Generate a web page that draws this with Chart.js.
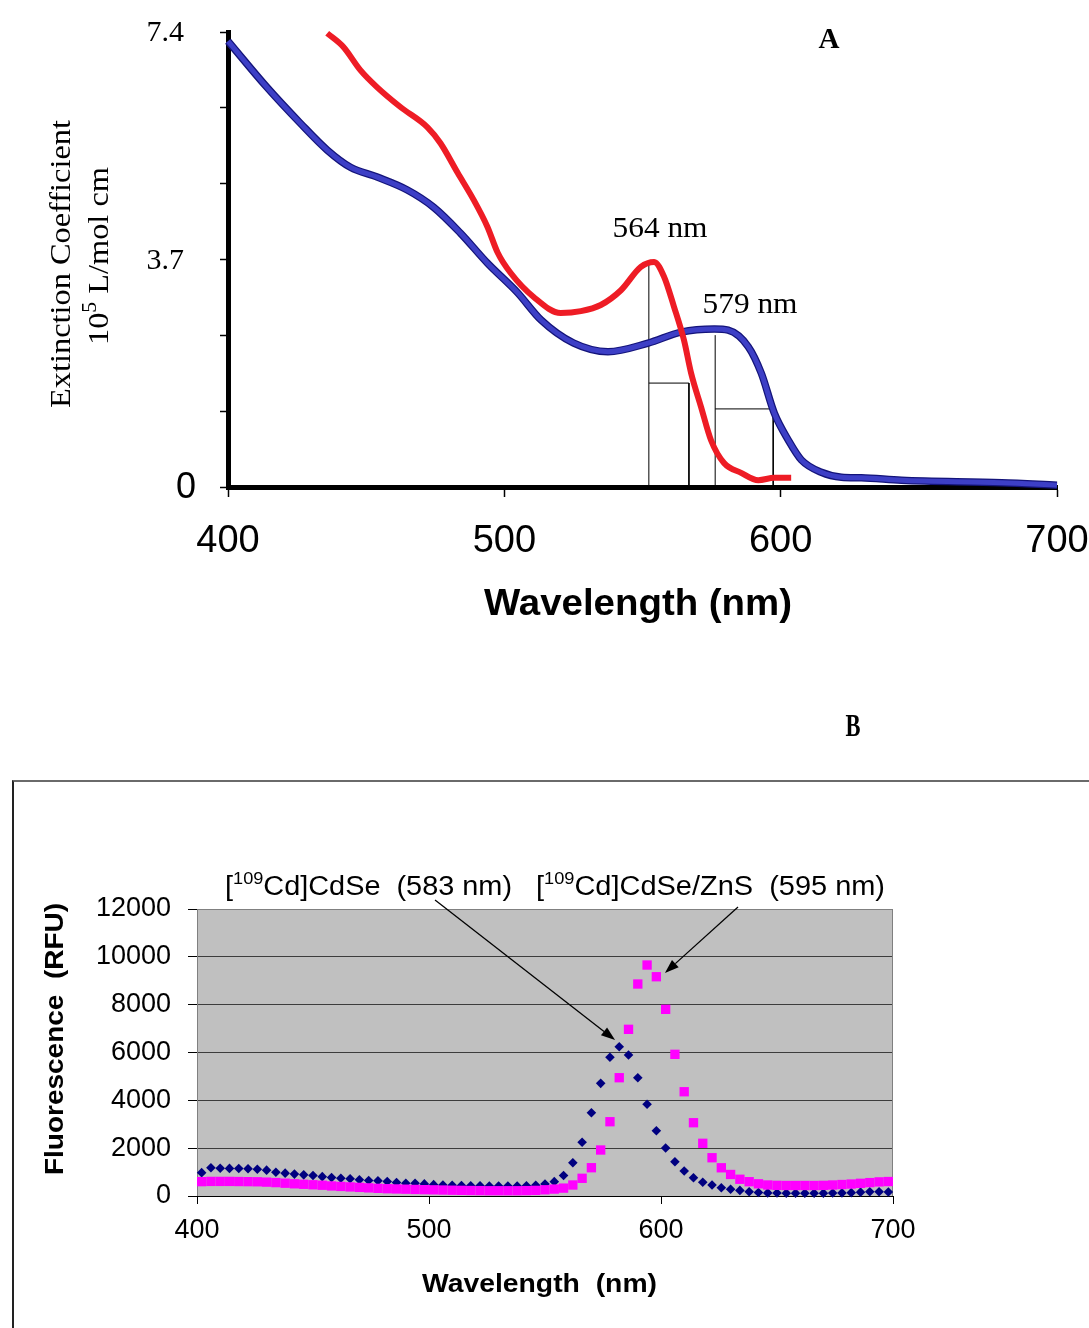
<!DOCTYPE html>
<html>
<head>
<meta charset="utf-8">
<script src="https://cdn.jsdelivr.net/npm/chart.js@4.4.0/dist/chart.umd.min.js"></script>
<style>
  body { margin: 0; background: #fff; width: 1089px; height: 1328px; overflow: hidden; position: relative; }
  #chartA { position: absolute; left: 0; top: 0; }
  #frameB { position: absolute; left: 12px; top: 780px; width: 1077px; height: 548px;
            border-top: 2px solid #6a6a6a; border-left: 2px solid #222; box-sizing: border-box; }
  #chartB { position: absolute; left: 0; top: 780px; }
</style>
</head>
<body>
<canvas id="chartA" width="1089" height="780"></canvas>
<div id="frameB"></div>
<canvas id="chartB" width="1089" height="548"></canvas>
<script>
// ---- panel A: extinction spectra (wavelength nm, 10^5 L/mol cm) ----
const blueWl  = [400.0, 414.1, 426.1, 435.9, 444.3, 454.0, 464.9, 474.4, 484.1, 493.9, 504.8, 513.2, 525.1, 537.5, 552.0, 564.0, 576.0, 581.0, 588.3, 593.0, 597.7, 602.8, 607.5, 614.7, 622.0, 629.2, 643.7, 680.0, 700.0];
const blueExt = [7.25, 6.50, 5.92, 5.48, 5.20, 5.04, 4.83, 4.55, 4.13, 3.64, 3.16, 2.72, 2.34, 2.20, 2.34, 2.52, 2.57, 2.55, 2.28, 1.85, 1.20, 0.76, 0.44, 0.24, 0.16, 0.15, 0.11, 0.07, 0.03];
const redWl   = [435.9, 441.7, 447.9, 454.0, 462.4, 472.2, 476.9, 483.1, 488.9, 493.9, 497.6, 502.3, 510.6, 520.4, 527.7, 534.9, 542.2, 549.4, 554.2, 557.8, 561.4, 565.0, 567.6, 571.2, 574.8, 579.5, 585.7, 591.9, 597.7, 603.8];
const redExt  = [7.38, 7.16, 6.78, 6.50, 6.18, 5.85, 5.59, 5.11, 4.67, 4.23, 3.81, 3.48, 3.09, 2.83, 2.86, 2.96, 3.20, 3.58, 3.66, 3.42, 2.93, 2.39, 1.85, 1.30, 0.76, 0.39, 0.23, 0.11, 0.15, 0.15];
// half-width marker lines (null = break)
const fwhmX = [552.3, 552.3, 552.3, 552.3, 566.8, 566.8, 566.8, 576.3, 576.3, 576.3, 576.3, 597.3, 597.3];
const fwhmY = [0, 3.66, null, 1.69, 1.69, 0, null, 0, 2.47, null, 1.27, 1.27, 0];
const aXTicks = [400, 500, 600, 700];
const aYTicks = [0, 1.2333, 2.4667, 3.7, 4.9333, 6.1667, 7.4];
const aYLabelVal = [0, 3.7, 7.4];
const aYLabelTxt = ['0', '3.7', '7.4'];

// ---- panel B: fluorescence (RFU) ----
const flWl = [402,406,410,414,418,422,426,430,434,438,442,446,450,454,458,462,466,470,474,478,482,486,490,494,498,502,506,510,514,518,522,526,530,534,538,542,546,550,554,558,562,566,570,574,578,582,586,590,594,598,602,606,610,614,618,622,626,630,634,638,642,646,650,654,658,662,666,670,674,678,682,686,690,694,698];
const cdseFl = [976,1180,1160,1155,1150,1140,1120,1080,990,955,
                915,885,855,810,770,745,720,680,645,640,
                605,560,535,530,505,475,462,448,435,430,
                425,420,420,420,420,425,450,500,600,860,
                1392,2245,3482,4711,5799,6242,5895,4946,3834,2730,
                2007,1434,1045,765,573,460,347,280,235,180,
                145,130,125,120,120,120,120,120,125,130,
                140,160,175,180,165];
const znsFl = [600,610,610,610,605,600,595,580,560,535,
               510,490,470,450,420,400,380,360,340,320,
               305,295,285,275,265,258,250,242,236,230,
               225,220,220,220,220,225,235,260,290,330,
               460,740,1183,1923,3106,4946,6969,8863,9657,9168,
               7805,5924,4360,3064,2203,1600,1180,900,700,598,
               510,460,445,440,440,440,440,445,460,480,
               500,530,560,590,605];
const bXTicks = [400, 500, 600, 700];
const arrowFromX = [502.6, 633.2];
const arrowFromY = [12376, 12084];
const arrowToX = [580.2, 601.7];
const arrowToY = [6523, 9324];

const SANS = 'Liberation Sans, Arial, sans-serif';
const SERIF = 'Liberation Serif, Times New Roman, serif';

function pts(xs, ys) {
    return xs.map((x, i) => ({x: x, y: ys[i]}));
}

// draws text pieces squeezed/stretched to a width, centred on cx, baseline cy
function fitText(ctx, parts, cx, cy, width, rot) {
    ctx.save();
    let total = 0;
    parts.forEach(p => { ctx.font = p.font; p.w = ctx.measureText(p.text).width; total += p.w; });
    ctx.translate(cx, cy);
    if (rot) ctx.rotate(rot);
    ctx.scale(width / total, 1);
    ctx.textAlign = 'left';
    ctx.textBaseline = 'alphabetic';
    ctx.fillStyle = '#000';
    let x = -total / 2;
    parts.forEach(p => { ctx.font = p.font; ctx.fillText(p.text, x, p.dy || 0); x += p.w; });
    ctx.restore();
}

const textA = {
    id: 'textA',
    afterDraw(chart) {
        const ctx = chart.ctx;
        const y = chart.scales.y;
        ctx.save();
        ctx.fillStyle = '#000';
        ctx.textAlign = 'right';
        aYLabelVal.forEach((v, i) => {
            const py = y.getPixelForValue(v);
            if (v === 0) {
                ctx.font = '36px ' + SANS;
                ctx.fillText(aYLabelTxt[i], 196, py + 11);
            } else {
                ctx.font = '30px ' + SERIF;
                ctx.fillText(aYLabelTxt[i], 184, py + 9);
            }
        });
        ctx.restore();

        fitText(ctx, [{text: 'Extinction Coefficient', font: '30px ' + SERIF}], 70, 264, 288, -Math.PI / 2);
        fitText(ctx, [{text: '10', font: '30px ' + SERIF},
                      {text: '5', font: '20px ' + SERIF, dy: -12},
                      {text: ' L/mol cm', font: '30px ' + SERIF}], 108, 256, 178, -Math.PI / 2);
        fitText(ctx, [{text: 'Wavelength (nm)', font: 'bold 36px ' + SANS}], 638, 615, 308);
        fitText(ctx, [{text: '564 nm', font: '30px ' + SERIF}], 660, 237, 95);
        fitText(ctx, [{text: '579 nm', font: '30px ' + SERIF}], 750, 313, 95);
        fitText(ctx, [{text: 'A', font: 'bold 30px ' + SERIF}], 829, 48, 21);
        fitText(ctx, [{text: 'B', font: 'bold 32px ' + SERIF}], 853, 736, 15);
    }
};

new Chart(document.getElementById('chartA'), {
    type: 'line',
    data: {
        datasets: [
            {data: pts(redWl, redExt), borderColor: '#ee1c25', borderWidth: 6, pointRadius: 0,
             cubicInterpolationMode: 'monotone', clip: false},
            {data: pts(blueWl, blueExt), borderColor: '#3d3fc6', borderWidth: 5, pointRadius: 0,
             cubicInterpolationMode: 'monotone', clip: false},
            {data: pts(blueWl, blueExt), borderColor: '#14147a', borderWidth: 7.5, pointRadius: 0,
             cubicInterpolationMode: 'monotone', clip: false},
            {data: pts(fwhmX, fwhmY), borderColor: '#000', borderWidth: 1, pointRadius: 0,
             tension: 0, spanGaps: false}
        ]
    },
    options: {
        responsive: false,
        animation: false,
        layout: {padding: {left: 0, right: 32, top: 32, bottom: 0}},
        plugins: {legend: {display: false}, tooltip: {enabled: false}},
        scales: {
            x: {
                type: 'linear', min: 400, max: 700,
                afterBuildTicks: s => { s.ticks = aXTicks.map(v => ({value: v})); },
                afterFit: s => { s.height = 293; s.paddingLeft = 0; s.paddingRight = 0; },
                ticks: {font: {family: SANS, size: 38}, color: '#000', padding: 22, autoSkip: false, maxRotation: 0},
                grid: {drawOnChartArea: false, tickLength: 10, tickColor: '#000', tickWidth: 1.5},
                border: {color: '#000', width: 5}
            },
            y: {
                type: 'linear', min: 0, max: 7.4,
                afterBuildTicks: s => { s.ticks = aYTicks.map(v => ({value: v})); },
                afterFit: s => { s.width = 228; },
                ticks: {display: false},
                grid: {drawOnChartArea: false, tickLength: 8, tickColor: '#000', tickWidth: 1.5},
                border: {color: '#000', width: 5}
            }
        }
    },
    plugins: [textA]
});

const plotB = {
    id: 'plotB',
    beforeDraw(chart) {
        const {ctx, chartArea: a} = chart;
        ctx.save();
        ctx.fillStyle = '#c0c0c0';
        ctx.fillRect(a.left, a.top, a.right - a.left, a.bottom - a.top);
        ctx.restore();
    },
    beforeDatasetsDraw(chart) {
        const {ctx, chartArea: a} = chart;
        ctx.save();
        ctx.lineWidth = 1;
        ctx.strokeStyle = '#808080';
        ctx.strokeRect(Math.round(a.left) + 0.5, Math.round(a.top) + 0.5, Math.round(a.right - a.left) - 1, Math.round(a.bottom - a.top));
        ctx.strokeStyle = '#000';
        ctx.beginPath();
        ctx.moveTo(a.left, Math.round(a.bottom) + 0.5);
        ctx.lineTo(a.right, Math.round(a.bottom) + 0.5);
        ctx.stroke();
        ctx.restore();
    },
    afterDatasetsDraw(chart) {
        const ctx = chart.ctx;
        const xs = chart.scales.x, ys = chart.scales.y;
        ctx.save();
        ctx.strokeStyle = '#000';
        ctx.fillStyle = '#000';
        ctx.lineWidth = 1.3;
        arrowFromX.forEach((fx, i) => {
            const x1 = xs.getPixelForValue(fx), y1 = ys.getPixelForValue(arrowFromY[i]);
            const x2 = xs.getPixelForValue(arrowToX[i]), y2 = ys.getPixelForValue(arrowToY[i]);
            const ang = Math.atan2(y2 - y1, x2 - x1);
            const len = 14, hw = 5;
            const bx = x2 - Math.cos(ang) * len, by = y2 - Math.sin(ang) * len;
            ctx.beginPath();
            ctx.moveTo(x1, y1);
            ctx.lineTo(bx, by);
            ctx.stroke();
            ctx.beginPath();
            ctx.moveTo(x2, y2);
            ctx.lineTo(bx - Math.sin(ang) * hw, by + Math.cos(ang) * hw);
            ctx.lineTo(bx + Math.sin(ang) * hw, by - Math.cos(ang) * hw);
            ctx.closePath();
            ctx.fill();
        });
        ctx.restore();
    },
    afterDraw(chart) {
        const ctx = chart.ctx;
        fitText(ctx, [{text: '[', font: '27px ' + SANS},
                      {text: '109', font: '17px ' + SANS, dy: -11},
                      {text: 'Cd]CdSe  (583 nm)', font: '27px ' + SANS}], 368.5, 115, 287);
        fitText(ctx, [{text: '[', font: '27px ' + SANS},
                      {text: '109', font: '17px ' + SANS, dy: -11},
                      {text: 'Cd]CdSe/ZnS  (595 nm)', font: '27px ' + SANS}], 710.5, 115, 349);
        fitText(ctx, [{text: 'Fluorescence  (RFU)', font: 'bold 26px ' + SANS}], 63, 259, 272, -Math.PI / 2);
        fitText(ctx, [{text: 'Wavelength  (nm)', font: 'bold 26px ' + SANS}], 539.5, 512, 235);
    }
};

new Chart(document.getElementById('chartB'), {
    type: 'scatter',
    data: {
        datasets: [
            {data: pts(flWl, znsFl), pointStyle: 'rect', pointRadius: 6.6, backgroundColor: '#ff00ff',
             borderWidth: 0, clip: false},
            {data: pts(flWl, cdseFl), pointStyle: 'rectRot', pointRadius: 4.8, backgroundColor: '#000080',
             borderWidth: 0, clip: false}
        ]
    },
    options: {
        responsive: false,
        animation: false,
        layout: {padding: {left: 0, right: 196, top: 129, bottom: 0}},
        plugins: {legend: {display: false}, tooltip: {enabled: false}},
        scales: {
            x: {
                type: 'linear', min: 400, max: 700,
                afterBuildTicks: s => { s.ticks = bXTicks.map(v => ({value: v})); },
                afterFit: s => { s.height = 132; s.paddingLeft = 0; s.paddingRight = 0; },
                ticks: {font: {family: SANS, size: 27}, color: '#000', padding: 10, autoSkip: false, maxRotation: 0},
                grid: {drawOnChartArea: false, tickLength: 8, tickColor: '#000'},
                border: {display: false}
            },
            y: {
                type: 'linear', min: 0, max: 12000,
                afterFit: s => { s.width = 197; },
                ticks: {stepSize: 2000, font: {family: SANS, size: 27}, color: '#000', padding: 17,
                        callback: v => String(v)},
                grid: {
                    color: c => (c.tick && c.tick.value > 0 && c.tick.value < 12000) ? '#3c3c3c' : 'rgba(0,0,0,0)',
                    tickColor: '#000', tickLength: 9
                },
                border: {display: false}
            }
        }
    },
    plugins: [plotB]
});
</script>
</body>
</html>
